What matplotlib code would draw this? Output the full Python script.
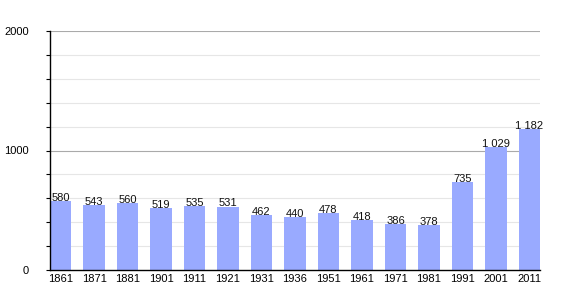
import matplotlib
matplotlib.use("Agg")
import matplotlib.pyplot as plt
import numpy as np

plt.rcParams["font.family"] = ["Liberation Sans", "DejaVu Sans"]

years = ["1861", "1871", "1881", "1901", "1911", "1921", "1931", "1936",
         "1951", "1961", "1971", "1981", "1991", "2001", "2011"]
population = [580, 543, 560, 519, 535, 531, 462, 440, 478, 418, 386, 378, 735, 1029, 1182]
labels = ["580", "543", "560", "519", "535", "531", "462", "440", "478", "418",
          "386", "378", "735", "1 029", "1 182"]

fig = plt.figure(figsize=(5.7, 3.0), dpi=100)
ax = fig.add_axes([50/570, 30/300, 490/570, 239/300])

w = 0.63
x = np.arange(len(years))
ax.bar(x, population, width=w, align="edge", color="#99aaff", zorder=2)
for xi, v, lab in zip(x, population, labels):
    ax.text(xi + w/2, v - 16, lab, ha="center", va="bottom", fontsize=8,
            color="#111111", zorder=3)

ax.set_xlim(0, len(years) - 1 + w)
ax.set_ylim(0, 2000)
ax.set_xticks(x + w/2)
ax.set_xticklabels(years, fontsize=8)
ax.tick_params(axis="x", length=0, pad=3)

ax.set_yticks([0, 1000, 2000])
ax.set_yticklabels(["0", "1000", "2000"], fontsize=8)
ax.set_yticks(np.arange(200, 2000, 200), minor=True)
ax.tick_params(axis="y", which="both", length=3, width=0.8, pad=12, direction="out")

for yv in np.arange(200, 2000, 200):
    if yv % 1000 != 0:
        ax.axhline(yv, color="#e6e6e6", lw=0.8, zorder=1)
for yv in [1000, 2000]:
    ax.axhline(yv, color="#aaaaaa", lw=0.8, zorder=1)

for s in ["top", "right"]:
    ax.spines[s].set_visible(False)
ax.spines["left"].set_color("black")
ax.spines["bottom"].set_color("black")
ax.spines["left"].set_linewidth(1.0)
ax.spines["bottom"].set_linewidth(1.0)

fig.savefig("out.png", dpi=100)
